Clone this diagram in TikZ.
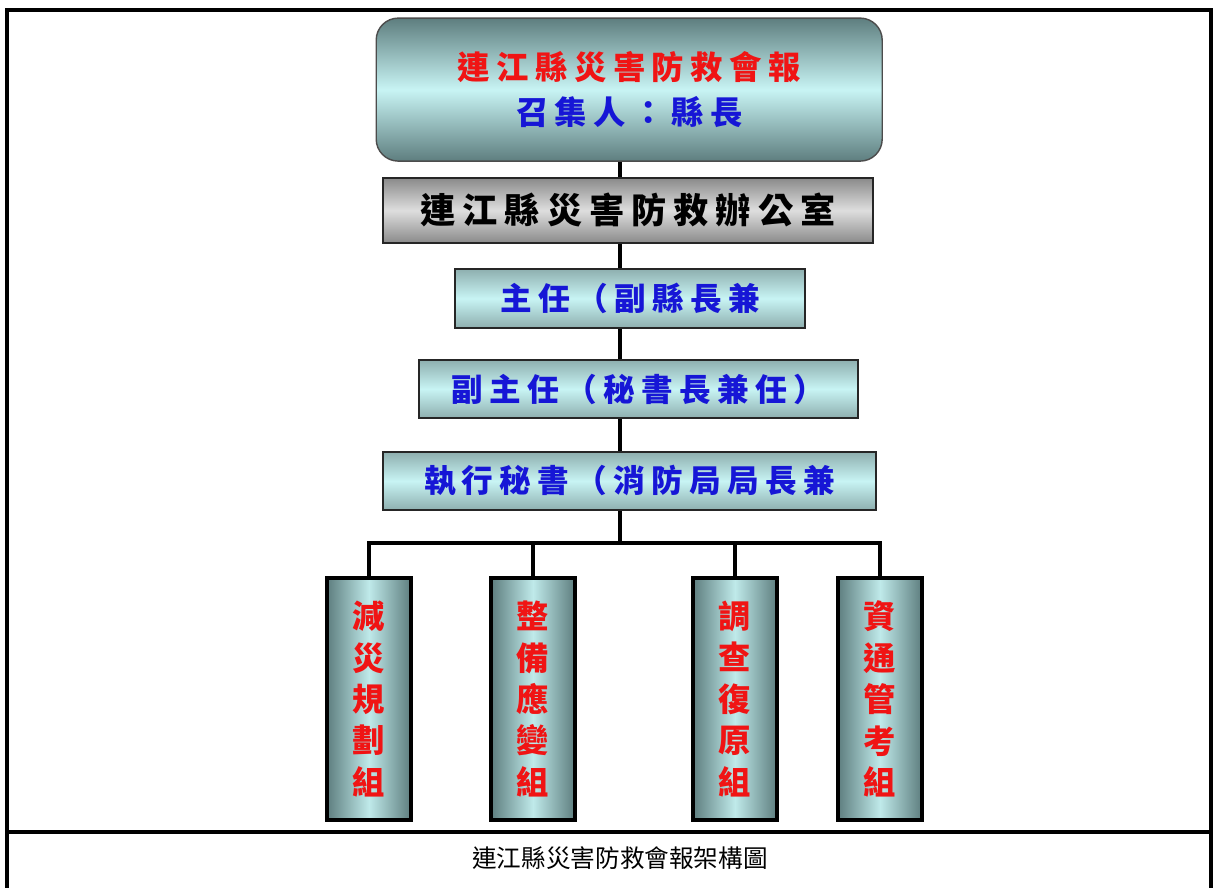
\documentclass[tikz,border=0pt]{standalone}
\usepackage{fontspec}
\newfontfamily\cjk[LetterSpace=20]{Noto Sans CJK TC}
\newfontfamily\cjkn{Noto Sans CJK TC}
\definecolor{tealscuro}{HTML}{5E7E7F}
\definecolor{tealmedio}{HTML}{8EAFAF}
\definecolor{ciano}{HTML}{C8F4F4}
\definecolor{grigioscuro}{HTML}{8A8A8A}
\definecolor{grigiochiaro}{HTML}{DEDEDE}
\definecolor{rosso}{HTML}{F01414}
\definecolor{blu}{HTML}{1616D6}

\begin{document}
\begin{tikzpicture}[font=\cjk\bfseries,
    riquadro/.style={draw=black!85, line width=1.3pt, inner sep=0pt,
        top color=tealmedio, bottom color=tealmedio, middle color=ciano},
    colonna/.style={draw=black, line width=2.6pt, inner sep=0pt,
        minimum width=2.1cm, minimum height=6.05cm,
        left color=tealscuro, right color=tealscuro, middle color=ciano!85!tealmedio,
        text=rosso, align=center, font=\cjkn\bfseries\fontsize{23}{29.5}\selectfont},
    linea/.style={line width=2.2pt}]

        % Area del disegno e cornice della tabella
        \useasboundingbox (0,0) rectangle (30.45,-22.2);
        \draw[line width=2.5pt] (0.175,-22.4) -- (0.175,-0.25) -- (30.275,-0.25) -- (30.275,-22.4);
        \draw[line width=2.5pt] (0.175,-20.8) -- (30.275,-20.8);

        % Asse verticale dei collegamenti
        \coordinate (asse) at (15.5,0);
        \coordinate (bus) at (15.5,-13.575);

        % Riquadro superiore (consiglio)
        \node[riquadro, rounded corners=0.55cm, draw=black!70, line width=1pt,
              top color=tealscuro, bottom color=tealscuro, middle color=ciano,
              minimum width=12.65cm, minimum height=3.575cm, align=center,
              font=\cjk\bfseries\fontsize{23}{32}\selectfont]
            (consiglio) at (15.73,-2.24) {\textcolor{rosso}{連江縣災害防救會報}\\\textcolor{blu}{召集人：縣長}};

        % Ufficio
        \node[riquadro, top color=grigioscuro, bottom color=grigioscuro, middle color=grigiochiaro,
              minimum width=12.25cm, minimum height=1.625cm,
              font=\cjk\bfseries\fontsize{25}{30}\selectfont]
            (ufficio) at (15.7,-5.26) {連江縣災害防救辦公室};

        % Cariche
        \node[riquadro, minimum width=8.75cm, minimum height=1.475cm, text=blu,
              font=\cjk\bfseries\fontsize{22.5}{27}\selectfont]
            (direttore) at (15.75,-7.46) {主任（副縣長兼};
        \node[riquadro, minimum width=10.975cm, minimum height=1.45cm, text=blu,
              font=\cjk\bfseries\fontsize{22.5}{27}\selectfont]
            (vice) at (15.96,-9.725) {副主任（秘書長兼任）};
        \node[riquadro, minimum width=12.325cm, minimum height=1.45cm, text=blu,
              font=\cjk\bfseries\fontsize{22.5}{27}\selectfont]
            (segretario) at (15.74,-12.025) {執行秘書（消防局局長兼};

        % Gruppi operativi (testo verticale)
        \foreach \nome/\x/\testo in {grA/9.225/{減\\災\\規\\劃\\組},
                                     grB/13.325/{整\\備\\應\\變\\組},
                                     grC/18.375/{調\\查\\復\\原\\組},
                                     grD/22.0/{資\\通\\管\\考\\組}}
            \node[colonna] (\nome) at (\x,-17.475) {\testo};

        % Collegamenti lungo l'asse
        \draw[linea] (consiglio.south -| asse) -- (ufficio.north -| asse);
        \draw[linea] (ufficio.south -| asse) -- (direttore.north -| asse);
        \draw[linea] (direttore.south -| asse) -- (vice.north -| asse);
        \draw[linea] (vice.south -| asse) -- (segretario.north -| asse);
        \draw[linea] (segretario.south -| asse) -- (bus);

        % Diramazione verso i gruppi
        \draw[linea] (grA.north) |- (bus) -| (grD.north);
        \draw[linea] (grB.north) -- (grB.north |- bus);
        \draw[linea] (grC.north) -- (grC.north |- bus);

        % Didascalia
        \node[font=\cjkn\fontsize{17.5}{20}\selectfont] (didascalia) at (15.5,-21.45) {連江縣災害防救會報架構圖};

    \end{tikzpicture}
\end{document}
